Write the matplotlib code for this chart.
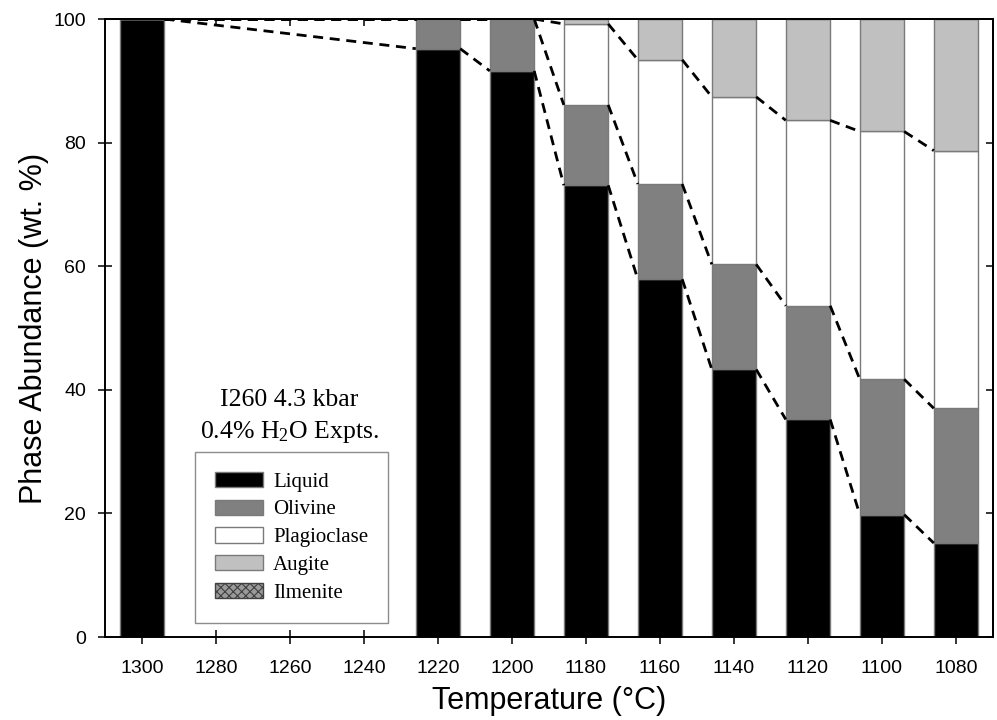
import matplotlib
matplotlib.use("Agg")
import matplotlib.pyplot as plt
from matplotlib.patches import Patch
import numpy as np

# ---- data ----
temps = [1300, 1220, 1200, 1180, 1160, 1140, 1120, 1100, 1080]
liquid = [100.0, 95.2, 91.6, 73.1, 57.9, 43.3, 35.2, 19.8, 15.2]
olivine = [0.0, 4.8, 8.4, 13.0, 15.4, 17.0, 18.4, 21.9, 21.8]
plagioclase = [0.0, 0.0, 0.0, 13.1, 20.1, 27.1, 30.0, 40.1, 41.7]
augite = [0.0, 0.0, 0.0, 0.8, 6.6, 12.6, 16.4, 18.2, 21.3]
ilmenite = [0.0, 0.0, 0.0, 0.0, 0.0, 0.0, 0.0, 0.0, 0.0]
phase_names = ["Liquid", "Olivine", "Plagioclase", "Augite", "Ilmenite"]
x_ticks = [1300, 1280, 1260, 1240, 1220, 1200, 1180, 1160, 1140, 1120, 1100, 1080]
y_ticks = [0, 20, 40, 60, 80, 100]

plt.rcParams['font.family'] = ['Liberation Sans', 'DejaVu Sans']
plt.rcParams['mathtext.fontset'] = 'custom'
plt.rcParams['mathtext.rm'] = 'Liberation Serif'
plt.rcParams['mathtext.it'] = 'Liberation Serif:italic'
plt.rcParams['hatch.linewidth'] = 0.8

fig = plt.figure(figsize=(9.97, 7.2), dpi=100)
ax = fig.add_axes([105/997, 83/720, 888/997, 618/720])

colors = ["#000000", "#808080", "#ffffff", "#c0c0c0", "#9a9a9a"]
hatches = [None, None, None, None, "xxxx"]
series = [liquid, olivine, plagioclase, augite, ilmenite]
w = 12.0
edge = "#7a7a7a"

bottom = np.zeros(len(temps))
cums = []
for vals, c, h in zip(series, colors, hatches):
    v = np.array(vals)
    ax.bar(temps, v, width=w, bottom=bottom, color=c, edgecolor=edge,
           linewidth=1.0, hatch=h, zorder=2)
    bottom = bottom + v
    cums.append(bottom.copy())

# dashed connecting lines between phase boundaries
for cum in cums[:3]:
    for i in range(len(temps) - 1):
        ax.plot([temps[i] - w/2, temps[i+1] + w/2], [cum[i], cum[i+1]],
                color="black", lw=2.0, ls=(0, (3.6, 2.4)), zorder=3)

ax.set_xlim(1310, 1070)
ax.set_ylim(0, 100)
ax.set_xticks(x_ticks)
ax.set_yticks(y_ticks)
ax.tick_params(axis='both', direction='inout', length=10.5, width=1.1,
               labelsize=14)
ax.tick_params(axis='x', pad=11)
ax.tick_params(axis='y', pad=8.5)
for s in ax.spines.values():
    s.set_linewidth(1.4)

secx = ax.secondary_xaxis('top')
secx.set_xticks(x_ticks)
secx.tick_params(direction='in', length=5, width=1.1, labeltop=False)
secx.spines['top'].set_linewidth(1.4)
secy = ax.secondary_yaxis('right')
secy.set_yticks(y_ticks)
secy.tick_params(direction='in', length=5, width=1.1, labelright=False)
secy.spines['right'].set_linewidth(1.4)

ax.set_xlabel("Temperature (°C)", fontsize=22, labelpad=7)
ax.set_ylabel("Phase Abundance (wt. %)", fontsize=22, labelpad=3)

# annotation text
tx = 289
fig.text(tx/997, 1 - 400/720, "I260 4.3 kbar", ha='center', va='center',
         fontsize=18.5, family='Liberation Serif')
fig.text(tx/997, 1 - 432/720, "0.4% H$_2$O Expts.", ha='center', va='center',
         fontsize=18.5, family='Liberation Serif')

handles = [Patch(facecolor=c, edgecolor=('#404040' if h else edge), hatch=h,
                 linewidth=1.0, label=n)
           for c, h, n in zip(colors, hatches, phase_names)]
leg = fig.legend(handles=handles, loc='upper left',
                 bbox_to_anchor=(195/997, 1 - 452/720),
                 bbox_transform=fig.transFigure,
                 prop={'family': 'Liberation Serif', 'size': 15},
                 frameon=True, fancybox=False, borderpad=0.95,
                 handlelength=2.3, handleheight=0.75, handletextpad=0.5,
                 labelspacing=0.38, borderaxespad=0)
leg.get_frame().set_edgecolor('#707070')
leg.get_frame().set_linewidth(1.0)

fig.savefig("out.png", dpi=100)
